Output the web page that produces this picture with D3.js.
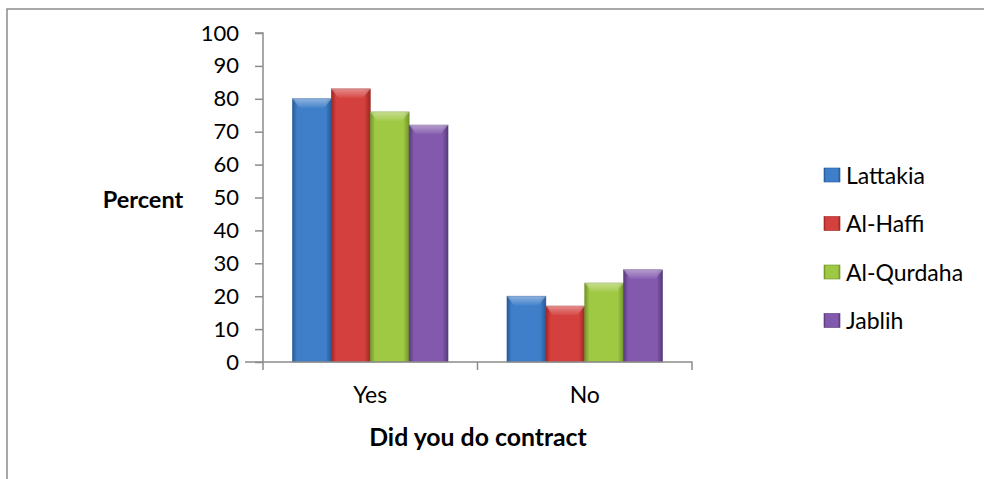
<!DOCTYPE html>
<html lang="en">
<head>
<meta charset="utf-8">
<title>Did you do contract</title>
<script src="https://d3js.org/d3.v7.min.js"></script>
<style>
  body { margin: 0; background: #fff; }
  svg { display: block; font-family: Lato, "Open Sans", sans-serif; }
</style>
</head>
<body>
<script>
const categories = ["Yes", "No"];
const seriesNames = ["Lattakia", "Al-Haffi", "Al-Qurdaha", "Jablih"];
const lattakia = [80, 20];
const alHaffi = [83, 17];
const alQurdaha = [76, 24];
const jablih = [72, 28];
const yTicks = [0, 10, 20, 30, 40, 50, 60, 70, 80, 90, 100];

const seriesValues = [lattakia, alHaffi, alQurdaha, jablih];
const colors = [
  {mid: "#3f7fca", edge: "#275a98"},
  {mid: "#d4403d", edge: "#9e2624"},
  {mid: "#9fc843", edge: "#72952a"},
  {mid: "#8359ad", edge: "#573a7c"}
];

const W = 984, H = 479;
const svg = d3.select("body").append("svg").attr("width", W).attr("height", H);

// frame
svg.append("path")
  .attr("d", `M7,${H} V9 H${W}`)
  .attr("fill", "none").attr("stroke", "#8c8c8c").attr("stroke-width", 1.5);

const x0 = 263, x1 = 692, yTop = 33, yBot = 362;

const x = d3.scaleBand().domain(categories).range([x0, x1]).paddingInner(0.275).paddingOuter(0.1375);
const xs = d3.scaleBand().domain(seriesNames).range([0, x.bandwidth()]);
const y = d3.scaleLinear().domain([0, 100]).range([yBot, yTop]);

const defs = svg.append("defs");
colors.forEach((c, i) => {
  const g = defs.append("linearGradient").attr("id", "g" + i).attr("x1", 0).attr("x2", 1).attr("y1", 0).attr("y2", 0);
  g.append("stop").attr("offset", "0").attr("stop-color", c.edge);
  g.append("stop").attr("offset", "0.12").attr("stop-color", c.mid);
  g.append("stop").attr("offset", "0.85").attr("stop-color", c.mid);
  g.append("stop").attr("offset", "1").attr("stop-color", c.edge);
});
const hl = defs.append("linearGradient").attr("id", "hl").attr("x1", 0).attr("x2", 0).attr("y1", 0).attr("y2", 1);
hl.append("stop").attr("offset", "0").attr("stop-color", "#fff").attr("stop-opacity", 0.4);
hl.append("stop").attr("offset", "1").attr("stop-color", "#fff").attr("stop-opacity", 0.05);

// bars
seriesNames.forEach((name, i) => {
  const g = svg.append("g");
  g.selectAll("rect.bar").data(seriesValues[i]).join("rect")
    .attr("class", "bar")
    .attr("x", (d, j) => x(categories[j]) + xs(name))
    .attr("y", d => y(d))
    .attr("width", xs.bandwidth())
    .attr("height", d => yBot - y(d))
    .attr("fill", `url(#g${i})`)
    .attr("stroke", colors[i].edge).attr("stroke-width", 0.6);
  // bevel on top
  g.selectAll("path.bev").data(seriesValues[i]).join("path")
    .attr("class", "bev")
    .attr("d", (d, j) => {
      const bx = x(categories[j]) + xs(name), bw = xs.bandwidth(), by = y(d);
      return `M${bx},${by} H${bx + bw} L${bx + bw - 7},${by + 9} H${bx + 7} Z`;
    })
    .attr("fill", "url(#hl)");
});

// axes
const yAxis = d3.axisLeft(y).tickValues(yTicks).tickSize(8).tickPadding(16);
const gy = svg.append("g").attr("transform", `translate(${x0},0)`).call(yAxis);
gy.select(".domain").attr("d", `M-8,${yTop}H0V${yBot + 8}`);

const gx = svg.append("g").attr("transform", `translate(0,${yBot})`)
  .call(d3.axisBottom(x).tickSize(0).tickPadding(25));
gx.select(".domain").attr("d", `M${x0 - 18},0H${x1}V8`);
gx.append("line").attr("x1", (x0 + x1) / 2).attr("x2", (x0 + x1) / 2).attr("y1", 0).attr("y2", 8);

[gy, gx].forEach(g => {
  g.selectAll(".domain, line").attr("stroke", "#8c8c8c").attr("stroke-width", 1.5);
  g.selectAll("text").attr("font-size", 22).attr("fill", "#000").attr("font-family", "Lato, sans-serif");
});
gx.selectAll("text").attr("font-size", 23);

// axis titles
svg.append("text").attr("x", 143).attr("y", 208).attr("text-anchor", "middle")
  .attr("font-size", 23.5).attr("font-weight", "bold").text("Percent");
svg.append("text").attr("x", 478).attr("y", 446).attr("text-anchor", "middle")
  .attr("font-size", 24.8).attr("font-weight", "bold").text("Did you do contract");

// legend
const lg = svg.append("g").attr("transform", "translate(824,175)");
seriesNames.forEach((name, i) => {
  const r = lg.append("g").attr("transform", `translate(0,${i * 48.5})`);
  r.append("rect").attr("x", 0).attr("y", -7).attr("width", 16).attr("height", 14)
    .attr("fill", `url(#g${i})`).attr("stroke", colors[i].edge).attr("stroke-width", 0.6);
  r.append("text").attr("x", 22).attr("y", 8.5).attr("font-size", 23).text(name);
});
</script>
</body>
</html>
